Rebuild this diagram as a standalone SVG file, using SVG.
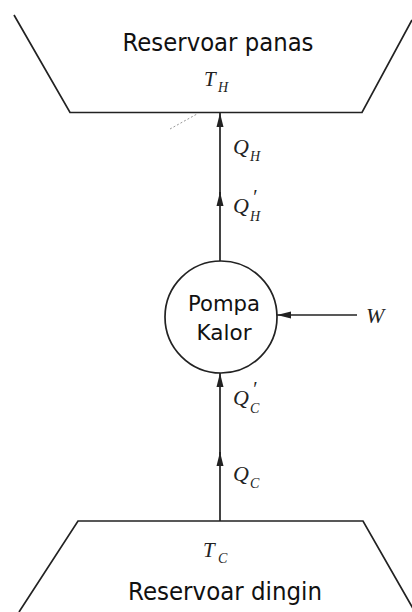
<svg xmlns="http://www.w3.org/2000/svg" width="412" height="612" viewBox="0 0 412 612">
<style>
.ln{fill:none;stroke:#222;stroke-width:1.7}
.lbl{font-family:"DejaVu Sans",Tahoma,sans-serif;fill:#111}
.m{font-family:"Liberation Serif","Times New Roman",serif;font-style:italic;fill:#222}
.sub{font-size:14px}
.pr{font-size:20px}
</style>
<defs>
<marker id="ah" viewBox="0 0 14 8" refX="14" refY="4" markerWidth="14" markerHeight="8" markerUnits="userSpaceOnUse" orient="auto">
<path d="M0,0.5 L14,4 L0,7.5 Z" fill="#222"/>
</marker>
</defs>
<rect width="412" height="612" fill="#fff"/>
<g id="hot">
<path class="ln" d="M14,15 L70,112.5 L362,112.5 L412,20"/>
<path d="M170,129 L197,114" fill="none" stroke="#999" stroke-width="1" stroke-dasharray="2 2"/>
<text class="lbl" x="218" y="51" font-size="24" text-anchor="middle" textLength="191" lengthAdjust="spacingAndGlyphs">Reservoar panas</text>
<text class="m" x="204" y="86" font-size="21">T<tspan class="sub" x="218" y="92">H</tspan></text>
</g>
<g id="cold">
<path class="ln" d="M19,612 L78,521 L363,521 L415,612"/>
<text class="m" x="203" y="557" font-size="21">T<tspan class="sub" x="218" y="563">C</tspan></text>
<text class="lbl" x="225" y="600" font-size="24" text-anchor="middle" textLength="194" lengthAdjust="spacingAndGlyphs">Reservoar dingin</text>
</g>
<g id="pump">
<circle class="ln" cx="221" cy="317" r="56"/>
<text class="lbl" x="224" y="311" font-size="22" text-anchor="middle" textLength="72" lengthAdjust="spacingAndGlyphs">Pompa</text>
<text class="lbl" x="224" y="340" font-size="22" text-anchor="middle" textLength="55" lengthAdjust="spacingAndGlyphs">Kalor</text>
</g>
<g id="connectors">
<line class="ln" x1="220" y1="261" x2="220" y2="192" marker-end="url(#ah)"/>
<line class="ln" x1="220" y1="195" x2="220" y2="113" marker-end="url(#ah)"/>
<line class="ln" x1="220" y1="521" x2="220" y2="452" marker-end="url(#ah)"/>
<line class="ln" x1="220" y1="455" x2="220" y2="373" marker-end="url(#ah)"/>
<line class="ln" x1="357" y1="315" x2="277" y2="315" marker-end="url(#ah)"/>
</g>
<g id="labels">
<text class="m" x="233" y="154" font-size="22">Q<tspan class="sub" x="250" y="161">H</tspan></text>
<text class="m" x="233" y="213" font-size="22">Q<tspan class="pr" x="252" y="204">′</tspan><tspan class="sub" x="250" y="221">H</tspan></text>
<text class="m" x="233" y="405" font-size="22">Q<tspan class="pr" x="252" y="396">′</tspan><tspan class="sub" x="250" y="413">C</tspan></text>
<text class="m" x="233" y="481" font-size="22">Q<tspan class="sub" x="250" y="488">C</tspan></text>
<text class="m" x="366" y="323" font-size="22">W</text>
</g>
</svg>
